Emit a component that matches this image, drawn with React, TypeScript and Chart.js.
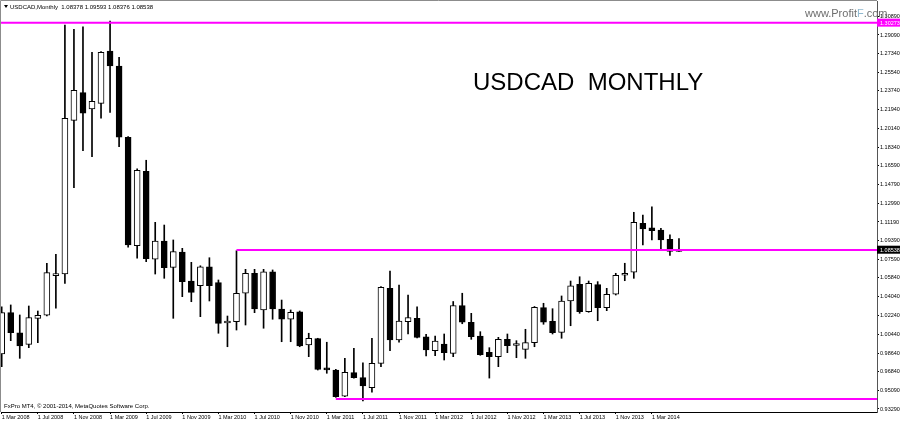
import React, { useEffect, useRef } from "react";
import { Chart, registerables } from "chart.js";

Chart.register(...registerables);

// x-axis tick labels, one every 4 monthly candles starting at the first candle
const X_TICK_LABELS = [
  "1 Mar 2008", "1 Jul 2008", "1 Nov 2008", "1 Mar 2009", "1 Jul 2009", "1 Nov 2009",
  "1 Mar 2010", "1 Jul 2010", "1 Nov 2010", "1 Mar 2011", "1 Jul 2011", "1 Nov 2011",
  "1 Mar 2012", "1 Jul 2012", "1 Nov 2012", "1 Mar 2013", "1 Jul 2013", "1 Nov 2013",
  "1 Mar 2014",
];

// Monthly candles, Mar 2008 .. Jun 2014
const OPEN = [
  0.9856, 1.0251, 1.0059, 0.9948, 1.0197, 1.0226, 1.0605, 1.0621, 1.2092, 1.2357,
  1.2201, 1.2255, 1.2756, 1.2612, 1.1930, 1.0892, 1.1604, 1.0762, 1.0937, 1.0685,
  1.0832, 1.0554, 1.0509, 1.0691, 1.0538, 1.0152, 1.0165, 1.0437, 1.0628, 1.0277,
  1.0643, 1.0286, 1.0188, 1.0260, 0.9942, 1.0002, 0.9707, 0.9702, 0.9453, 0.9677,
  0.9629, 0.9533, 0.9766, 1.0484, 0.9990, 1.0165, 1.0197, 1.0021, 0.9887, 0.9951,
  0.9862, 1.0318, 1.0159, 1.0028, 0.9872, 0.9830, 0.9996, 0.9937, 0.9900, 0.9964,
  1.0299, 1.0169, 1.0063, 1.0363, 1.0523, 1.0260, 1.0519, 1.0299, 1.0427, 1.0609,
  1.0638, 1.1107, 1.1064, 1.1042, 1.0953, 1.08378,
];
const HIGH = [
  1.0308, 1.0325, 1.0229, 1.0315, 1.0267, 1.0724, 1.0810, 1.3005, 1.2964, 1.2988,
  1.2743, 1.2750, 1.3043, 1.2696, 1.1936, 1.1629, 1.1710, 1.1116, 1.1090, 1.0947,
  1.0867, 1.0733, 1.0700, 1.0777, 1.0564, 1.0219, 1.0844, 1.0666, 1.0666, 1.0666,
  1.0660, 1.0372, 1.0277, 1.0267, 1.0054, 1.0006, 0.9968, 0.9709, 0.9814, 0.9910,
  0.9772, 1.0006, 1.0500, 1.0650, 1.0516, 1.0420, 1.0308, 1.0044, 1.0028, 1.0047,
  1.0358, 1.0437, 1.0245, 1.0069, 0.9916, 1.0015, 1.0047, 0.9983, 1.0092, 1.0310,
  1.0341, 1.0289, 1.0411, 1.0554, 1.0595, 1.0554, 1.0548, 1.0484, 1.0628, 1.0724,
  1.1212, 1.1186, 1.1265, 1.1059, 1.0995, 1.09593,
];
const LOW = [
  0.9734, 0.9983, 0.9814, 0.9916, 0.9964, 1.0220, 1.0293, 1.0532, 1.1447, 1.1802,
  1.1744, 1.2112, 1.2169, 1.1840, 1.0877, 1.0772, 1.0739, 1.0621, 1.0580, 1.0197,
  1.0404, 1.0356, 1.0213, 1.0363, 1.0054, 0.9925, 1.0085, 1.0133, 1.0251, 1.0102,
  1.0188, 0.9973, 0.9973, 0.9925, 0.9830, 0.9702, 0.9671, 0.9441, 0.9447, 0.9623,
  0.9406, 0.9489, 0.9734, 0.9887, 0.9968, 1.0047, 1.0010, 0.9836, 0.9839, 0.9798,
  0.9830, 1.0145, 0.9996, 0.9843, 0.9625, 0.9734, 0.9868, 0.9820, 0.9814, 0.9925,
  1.0140, 1.0047, 1.0006, 1.0126, 1.0245, 1.0255, 1.0174, 1.0270, 1.0420, 1.0557,
  1.0580, 1.0899, 1.0947, 1.0844, 1.0800, 1.08376,
];
const CLOSE = [
  1.0251, 1.0059, 0.9932, 1.0203, 1.0226, 1.0634, 1.0624, 1.2112, 1.2380, 1.2160,
  1.2274, 1.2743, 1.2612, 1.1930, 1.0899, 1.1614, 1.0768, 1.0937, 1.0682, 1.0835,
  1.0548, 1.0446, 1.0691, 1.0509, 1.0149, 1.0169, 1.0437, 1.0628, 1.0286, 1.0643,
  1.0286, 1.0188, 1.0255, 0.9932, 1.0006, 0.9709, 0.9704, 0.9447, 0.9680, 0.9629,
  0.9549, 0.9766, 1.0494, 0.9990, 1.0171, 1.0203, 1.0015, 0.9894, 0.9980, 0.9868,
  1.0320, 1.0159, 1.0021, 0.9849, 0.9830, 0.9996, 0.9935, 0.9945, 0.9964, 1.0303,
  1.0159, 1.0059, 1.0363, 1.0509, 1.0260, 1.0532, 1.0299, 1.0427, 1.0609, 1.0624,
  1.1116, 1.1052, 1.1036, 1.0947, 1.0838, 1.08538,
];

// right-hand price axis labels
const Y_TICKS = [
  1.3089, 1.2909, 1.2734, 1.2554, 1.2374, 1.2194, 1.2014, 1.1834, 1.1659, 1.1479,
  1.1299, 1.1119, 1.0939, 1.0759, 1.0584, 1.0404, 1.0224, 1.0044, 0.9864, 0.9684,
  0.9509, 0.9329,
];

// horizontal support / resistance levels and the candle index where each starts (-1 = left edge)
const LEVELS = [1.30273, 1.0850, 0.9425];
const LEVEL_START = [-1, 26, 37];
const LAST_PRICE = 1.08538;

const HEADER = "USDCAD,Monthly  1.08378 1.09593 1.08376 1.08538";
const TITLE = "USDCAD  MONTHLY";
const FOOTER = "FxPro MT4, \u00A9 2001-2014, MetaQuotes Software Corp.";

const X_MIN = -0.0775;
const X_MAX = 96.93;
const Y_MIN = 0.930028;
const Y_MAX = 1.323443;
const FONT = '"Liberation Sans", Arial, sans-serif';

export default function App() {
  const ref = useRef<HTMLCanvasElement>(null);

  useEffect(() => {
    document.body.style.margin = "0";
    const canvas = ref.current;
    if (!canvas) return;

    const idx = OPEN.map((_, i) => i);
    const bull = OPEN.map((o, i) => CLOSE[i] >= o);

    const overlay = {
      id: "overlay",
      afterDraw(chart: any) {
        const ctx = chart.ctx as CanvasRenderingContext2D;
        const area = chart.chartArea;
        const ys = chart.scales.y;
        ctx.save();
        // frame (left & top)
        ctx.strokeStyle = "#8c8c8c";
        ctx.lineWidth = 1;
        ctx.beginPath();
        ctx.moveTo(0.5, area.bottom);
        ctx.lineTo(0.5, 0.5);
        ctx.lineTo(area.right, 0.5);
        ctx.stroke();

        // header
        ctx.fillStyle = "#000";
        ctx.beginPath();
        ctx.moveTo(4, 5);
        ctx.lineTo(8, 5);
        ctx.lineTo(6, 8);
        ctx.closePath();
        ctx.fill();
        ctx.font = `6px ${FONT}`;
        ctx.textBaseline = "alphabetic";
        ctx.textAlign = "left";
        ctx.fillText(HEADER, 10, 8.5);

        // footer
        ctx.fillText(FOOTER, 4, 408);

        // title
        ctx.font = `24px ${FONT}`;
        ctx.fillText(TITLE, 473, 90);

        // watermark
        ctx.font = `11px ${FONT}`;
        let x = 805;
        const parts: [string, string][] = [["www.Profit", "#6e6e6e"], ["F", "#8fb8cf"], [".com", "#6e6e6e"]];
        for (const [t, c] of parts) {
          ctx.fillStyle = c;
          ctx.fillText(t, x, 17);
          x += ctx.measureText(t).width;
        }

        // price labels on axis
        const tag = (v: number, bg: string) => {
          const py = ys.getPixelForValue(v);
          ctx.fillStyle = bg;
          ctx.fillRect(area.right, py - 4, 900 - area.right, 8);
          ctx.fillStyle = "#fff";
          ctx.font = `5.5px ${FONT}`;
          ctx.textBaseline = "middle";
          ctx.fillText(v.toFixed(5), area.right + 3, py + 0.5);
          ctx.textBaseline = "alphabetic";
        };
        tag(LEVELS[0], "#ff00ff");
        tag(LAST_PRICE, "#000");
        ctx.restore();
      },
    };

    const chart = new Chart(canvas, {
      type: "bar",
      data: {
        datasets: [
          ...LEVELS.map((lv, k) => ({
            type: "line" as const,
            data: [
              { x: LEVEL_START[k] < 0 ? X_MIN : LEVEL_START[k], y: lv },
              { x: X_MAX, y: lv },
            ],
            borderColor: "#ff00ff",
            borderWidth: 2,
            pointRadius: 0,
            order: -1,
          })),
          {
            type: "bar" as const,
            data: idx.map((i) => ({ x: i, y: [OPEN[i], CLOSE[i]] })),
            backgroundColor: bull.map((b) => (b ? "#ffffff" : "#000000")),
            borderColor: "#000",
            borderWidth: 1,
            borderSkipped: false,
            barThickness: 6,
            minBarLength: 2,
            grouped: false,
            order: 0,
          },
          {
            type: "bar" as const,
            data: idx.map((i) => ({ x: i, y: [LOW[i], HIGH[i]] })),
            backgroundColor: "#000",
            borderWidth: 0,
            barThickness: 1,
            grouped: false,
            order: 2,
          },
        ] as any,
      },
      options: {
        animation: false,
        responsive: false,
        events: [],
        layout: { padding: { left: 1, top: 1, right: 0, bottom: 0 } },
        plugins: { legend: { display: false }, tooltip: { enabled: false }, title: { display: false } },
        scales: {
          x: {
            type: "linear",
            offset: false,
            min: X_MIN,
            max: X_MAX,
            afterBuildTicks: (s: any) => {
              s.ticks = X_TICK_LABELS.map((_, k) => ({ value: k * 4 }));
            },
            afterFit: (s: any) => {
              s.height = 9;
              s.paddingLeft = 0;
              s.paddingRight = 0;
            },
            ticks: {
              autoSkip: false,
              maxRotation: 0,
              minRotation: 0,
              align: "start",
              padding: 0,
              color: "#000",
              font: { size: 5.5, family: FONT },
              callback: (_v: any, i: number) => X_TICK_LABELS[i],
            },
            grid: { offset: false, drawOnChartArea: false, tickLength: 2, color: "#000" },
            border: { display: true, color: "#000" },
          },
          y: {
            type: "linear",
            position: "right",
            min: Y_MIN,
            max: Y_MAX,
            afterBuildTicks: (s: any) => {
              s.ticks = Y_TICKS.map((v) => ({ value: v }));
            },
            afterFit: (s: any) => {
              s.width = 23;
              s.paddingTop = 0;
              s.paddingBottom = 0;
            },
            ticks: {
              autoSkip: false,
              padding: 1,
              color: "#000",
              font: { size: 5.5, family: FONT },
              callback: (v: any) => Number(v).toFixed(5),
            },
            grid: { drawOnChartArea: false, tickLength: 2, color: "#000" },
            border: { display: true, color: "#555" },
          },
        },
      } as any,
      plugins: [overlay],
    });

    return () => chart.destroy();
  }, []);

  return <canvas ref={ref} width={900} height={421} style={{ display: "block" }} />;
}
